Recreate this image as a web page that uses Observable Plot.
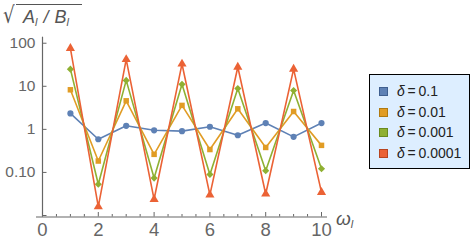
<!DOCTYPE html>
<html>
<head>
<meta charset="utf-8">
<script src="https://cdn.jsdelivr.net/npm/d3@7"></script>
<script src="https://cdn.jsdelivr.net/npm/@observablehq/plot@0.6"></script>
<style>
  html, body { margin: 0; padding: 0; background: #fff; }
  #wrap { position: relative; width: 471px; height: 245px; font-family: "Liberation Sans", Arial, sans-serif; }
  #chart svg { display: block; }
  #ylab { position: absolute; left: 2px; top: 0px; color: #555; white-space: nowrap; }
  #ylab .rad { position: absolute; left: 1px; top: 2px; font-size: 23px; font-style: normal; font-family: "DejaVu Sans", sans-serif; transform: scaleX(0.8); transform-origin: left; }
  #ylab .ov { position: absolute; left: 14px; top: 4px; width: 66px; border-top: 1.2px solid #555; }
  #ylab .arg { position: absolute; left: 21px; top: 7px; font-size: 18px; font-style: italic; word-spacing: 1px; }
  #ylab sub, #xlab sub { font-size: 11px; vertical-align: -3px; }
  #xlab { position: absolute; left: 336px; top: 208px; font-size: 19px; font-style: italic; color: #555; }
  #legend { position: absolute; left: 369px; top: 74px; width: 101px; height: 95px; box-sizing: border-box;
            border: 1px solid #000; background: #DDEEFF; }
  #legend .row { position: absolute; left: 9px; height: 14px; font-size: 14px; color: #222; white-space: nowrap; }
  #legend .sw { position: absolute; left: 0; top: 2px; width: 9px; height: 9px; box-sizing: border-box; }
  #legend .lt { position: absolute; left: 18px; top: -2px; }
</style>
</head>
<body>
<div id="wrap">
  <div id="chart"></div>
  <div id="ylab"><span class="rad">√</span><span class="ov"></span><span class="arg">A<sub>l</sub> / B<sub>l</sub></span></div>
  <div id="xlab">ω<sub>l</sub></div>
  <div id="legend"></div>
</div>
<script>
// ---- data ----
const xs = [1, 2, 3, 4, 5, 6, 7, 8, 9, 10];
const deltas = ["0.1", "0.01", "0.001", "0.0001"];
const s1 = [2.35, 0.59, 1.21, 0.95, 0.91, 1.15, 0.73, 1.40, 0.67, 1.40];
const s2 = [8.3, 0.184, 4.6, 0.263, 3.6, 0.34, 3.0, 0.38, 2.6, 0.425];
const s3 = [25, 0.053, 13.7, 0.074, 11.1, 0.090, 8.9, 0.11, 8.0, 0.122];
const s4 = [76, 0.016, 42, 0.0238, 33, 0.030, 28, 0.0316, 25, 0.0345];
const series = [s1, s2, s3, s4];
const colors = ["#5E81B5", "#E19C24", "#8FB032", "#EB6235"];
const edgeColors = ["#3F5F8F", "#B07A10", "#6A8A1E", "#B84420"];
const xTicks = [0, 2, 4, 6, 8, 10];
const xMinor = [0.5, 1, 1.5, 2.5, 3, 3.5, 4.5, 5, 5.5, 6.5, 7, 7.5, 8.5, 9, 9.5];
const yTicks = [100, 10, 1, 0.1, 0.01];
const yLabels = ["100", "10", "1", "0.10", ""];

// square-ish diamond marker (Mathematica style)
const wideDiamond = {
  draw(ctx, size) {
    const r = Math.sqrt(size / Math.PI) * 1.15;
    ctx.moveTo(0, -r); ctx.lineTo(r, 0); ctx.lineTo(0, r); ctx.lineTo(-r, 0); ctx.closePath();
  }
};
const symbols = ["circle", "square", wideDiamond, "triangle"];

// ---- layout ----
const W = 471, H = 245;
const mTop = 36.7, mBottom = 28.5, mLeft = 36, mRight = 144;
const innerW = W - mLeft - mRight, innerH = H - mTop - mBottom;
const xDomain = [-0.215, 10.215];
const yDomain = [0.00923, 138];
const axisColor = "#666";

const rows = series.map((s, i) => s.map((v, j) => ({x: xs[j], y: v, d: deltas[i]})));

const marks = [
  Plot.ruleY([yDomain[0]], {stroke: axisColor, strokeWidth: 1.2}),
  Plot.ruleX([0], {stroke: axisColor, strokeWidth: 1.2}),
  Plot.tickX(xTicks, {x: d => d, stroke: axisColor, insetTop: innerH - 4.5}),
  Plot.tickX(xMinor, {x: d => d, stroke: axisColor, insetTop: innerH - 2.5}),
  Plot.tickY(yTicks, {y: d => d, stroke: axisColor, insetLeft: 6, insetRight: innerW - 6 - 4.5}),
  Plot.text(yTicks, {x: 0, y: d => d, text: (d, i) => yLabels[i], textAnchor: "end", dx: -7,
    fontSize: 15.5, fill: "#666", fontFamily: "Liberation Sans, Arial, sans-serif"}),
  Plot.text(xTicks, {x: d => d, y: yDomain[0], text: d => String(d), dy: 13.5, lineAnchor: "middle",
    fontSize: 18.5, fill: "#666", fontFamily: "Liberation Sans, Arial, sans-serif"})
];
rows.forEach((r, i) => {
  marks.push(Plot.line(r, {x: "x", y: "y", stroke: colors[i], strokeWidth: 1.6}));
  marks.push(Plot.dot(r, {x: "x", y: "y", fill: colors[i], symbol: symbols[i],
    r: i === 3 ? 3.4 : 3.1, stroke: "none"}));
});

const chart = Plot.plot({
  width: W, height: H,
  marginTop: mTop, marginBottom: mBottom, marginLeft: mLeft, marginRight: mRight,
  x: {domain: xDomain, axis: null},
  y: {type: "log", domain: yDomain, axis: null},
  style: {background: "transparent", overflow: "visible"},
  marks
});
document.getElementById("chart").appendChild(chart);

// ---- legend ----
const leg = document.getElementById("legend");
const rowTops = [10, 30.5, 51, 71.5];
deltas.forEach((d, i) => {
  const row = document.createElement("div");
  row.className = "row";
  row.style.top = rowTops[i] + "px";
  row.innerHTML = `<span class="sw" style="background:${colors[i]};border:1px solid ${edgeColors[i]}"></span>` +
    `<span class="lt"><i>δ</i>\u2009=\u2009${d}</span>`;
  leg.appendChild(row);
});
</script>
</body>
</html>
